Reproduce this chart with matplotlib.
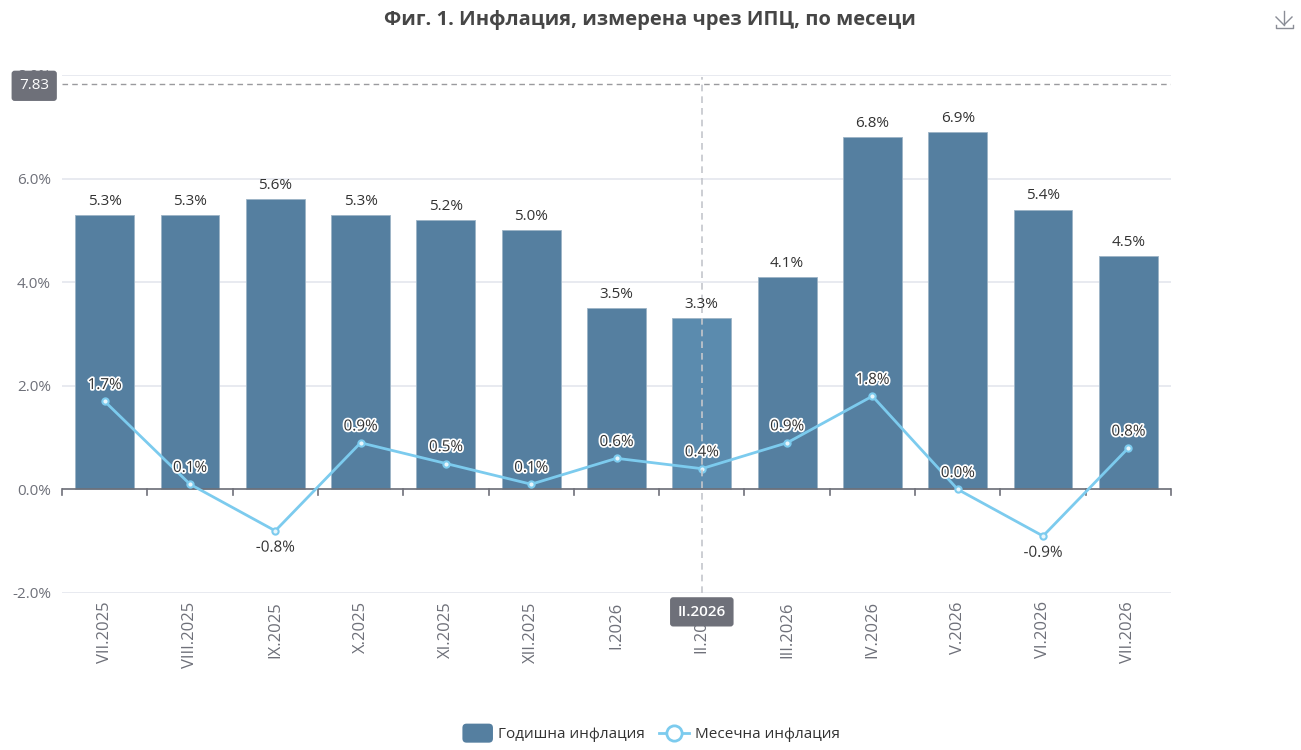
import matplotlib
matplotlib.use('Agg')
import matplotlib.pyplot as plt
from matplotlib.lines import Line2D
from matplotlib.patches import FancyBboxPatch, Patch
from matplotlib.legend_handler import HandlerPatch
import matplotlib.patheffects as pe
import numpy as np

plt.rcParams['font.family'] = ['Open Sans', 'DejaVu Sans']

# Data
months = ['VII.2025', 'VIII.2025', 'IX.2025', 'X.2025', 'XI.2025', 'XII.2025', 'I.2026',
          'II.2026', 'III.2026', 'IV.2026', 'V.2026', 'VI.2026', 'VII.2026']
annual = [5.3, 5.3, 5.6, 5.3, 5.2, 5.0, 3.5, 3.3, 4.1, 6.8, 6.9, 5.4, 4.5]
monthly = [1.7, 0.1, -0.8, 0.9, 0.5, 0.1, 0.6, 0.4, 0.9, 1.8, 0.0, -0.9, 0.8]
y_ticks = [-2, 0, 2, 4, 6, 8]
pointer_value = 7.83
pointer_month = 'II.2026'

BAR = '#557fa0'
BAR_HI = '#5b8bae'
LINE = '#7ccbee'
GREY = '#6e7079'
W, H = 1301, 750

fig = plt.figure(figsize=(W / 100, H / 100), dpi=100)
ax = fig.add_axes([62 / W, 1 - 593 / H, (1171 - 62) / W, (593 - 75) / H])
x = np.arange(len(months))
hi = months.index(pointer_month)

# Grid and axes
ax.set_xlim(-0.5, len(months) - 0.5)
ax.set_ylim(-2, 8)
for s in ax.spines.values():
    s.set_visible(False)
ax.set_axisbelow(True)
ax.yaxis.grid(True, color='#e4e6ee', lw=1.2)
ax.set_yticks(y_ticks)
ax.set_yticklabels([f'{v:.1f}%' for v in y_ticks], color=GREY, fontsize=11, va='center_baseline')
ax.tick_params(axis='y', length=0, pad=8)
ax.set_xticks(x)
ax.set_xticklabels(months, rotation=90, color=GREY, fontsize=12)
ax.tick_params(axis='x', length=0, pad=6)

# Bars
colors = [BAR_HI if i == hi else BAR for i in x]
bars = ax.bar(x, annual, width=0.69, color=colors, edgecolor='#9db4c6', linewidth=0.6, zorder=2)
for xi, v in zip(x, annual):
    ax.annotate(f'{v:.1f}%', (xi, v), xytext=(0, 4.5), textcoords='offset points',
                ha='center', va='bottom', fontsize=11, color='#333333', zorder=6)

# Zero axis line with boundary ticks
ax.axhline(0, color=GREY, lw=1.2, zorder=3)
for b in np.arange(len(months) + 1) - 0.5:
    ax.plot([b, b], [0, -0.1], color=GREY, lw=1.2, zorder=3, clip_on=False)

# Monthly line
ax.plot(x, monthly, color=LINE, lw=2, marker='o', ms=4.5, mfc='#e8f6fc', mec=LINE, mew=1.5, zorder=4)
halo = [pe.withStroke(linewidth=2.5, foreground='white')]
for xi, v in zip(x, monthly):
    off, va = (-7, 'top') if v < 0 else (6, 'bottom')
    ax.annotate(f'{v:.1f}%', (xi, v), xytext=(0, off), textcoords='offset points',
                ha='center', va=va, fontsize=11, color='#333333', zorder=7, path_effects=halo)

# Pointer lines and tags
ax.axhline(pointer_value, color='#9a9a9e', lw=1, ls=(0, (4, 3)), zorder=3)
ax.plot([hi, hi], [-2, 7.96], color='#c4c6cc', lw=1.2, ls=(0, (4, 3)), zorder=5)
tag = dict(boxstyle='round,pad=0.5,rounding_size=0.2', fc=GREY, ec='none')
ax.annotate(f'{pointer_value:.2f}', (0, pointer_value), xycoords=('axes fraction', 'data'),
            xytext=(-20, 0), textcoords='offset points', ha='center', va='center_baseline',
            color='white', fontsize=11, bbox=tag, zorder=10, annotation_clip=False)
ax.annotate(pointer_month, (hi, -2), xycoords=('data', 'data'), xytext=(0, -12.5),
            textcoords='offset points', ha='center', va='center_baseline', color='white', fontsize=11,
            fontweight='semibold', bbox=tag, zorder=10, annotation_clip=False)

# Title
fig.text(650 / W, 1 - 20.5 / H, 'Фиг. 1. Инфлация, измерена чрез ИПЦ, по месеци', ha='center', va='center',
         fontsize=14.5, fontweight='bold', color='#464646')


# Legend with rounded bar swatch
class RoundHandler(HandlerPatch):
    def create_artists(self, legend, orig, xd, yd, width, height, fontsize, trans):
        p = FancyBboxPatch((-xd, -yd - 3), width, height + 6, boxstyle='round,pad=0,rounding_size=3',
                           fc=BAR, ec='none', transform=trans)
        return [p]


handles = [Patch(color=BAR, label='Годишна инфлация'),
           Line2D([], [], color=LINE, lw=2, marker='o', ms=11, mfc='white', mec=LINE, mew=2,
                  label='Месечна инфлация')]
fig.legend(handles=handles, loc='center', bbox_to_anchor=(651 / W, 1 - 735 / H), ncols=2, frameon=False,
           fontsize=11, labelcolor='#333333', handlelength=2.0, handletextpad=0.35, columnspacing=0.9,
           handler_map={Patch: RoundHandler()})

# Download icon
ic = '#8a8d96'
for xs, ys in [([1284, 1284], [11, 25]), ([1276, 1284, 1292], [17, 25, 17]),
               ([1275.5, 1275.5, 1292.5, 1292.5], [25, 28, 28, 25])]:
    fig.add_artist(Line2D(np.array(xs) / W, 1 - np.array(ys) / H, color=ic, lw=1))

fig.savefig('out.png', dpi=100)
